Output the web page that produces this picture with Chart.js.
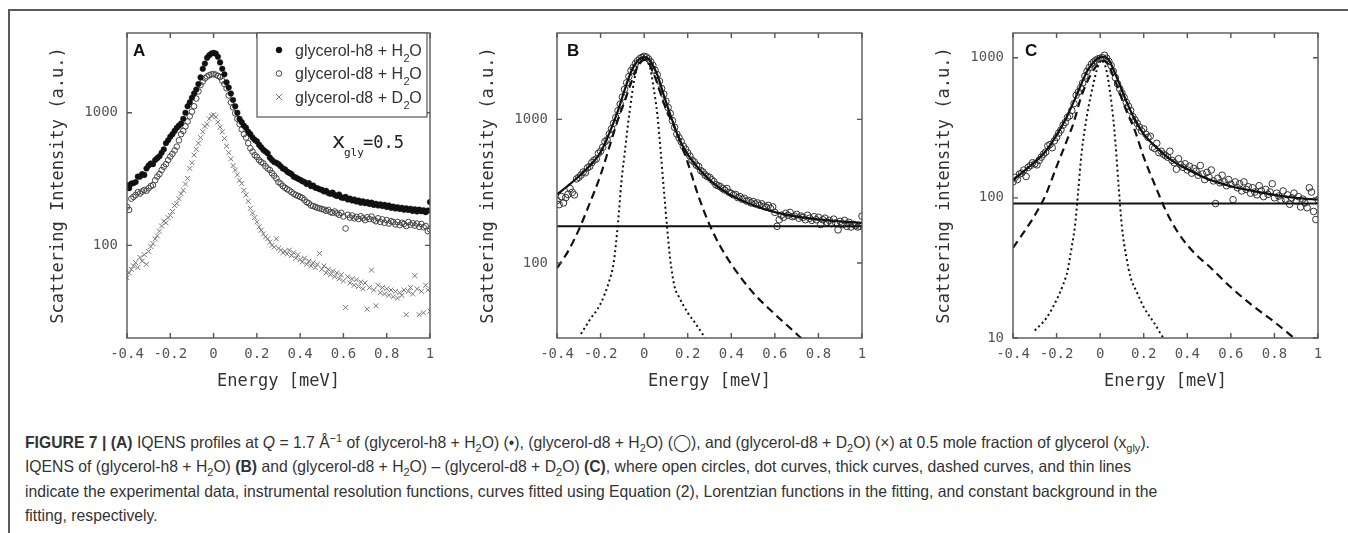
<!DOCTYPE html>
<html>
<head>
<meta charset="utf-8">
<script src="https://cdn.jsdelivr.net/npm/chart.js@4"></script>
<style>
  html, body { margin: 0; padding: 0; background: #fff; }
  body { width: 1348px; height: 533px; position: relative; overflow: hidden; }
  #frame { position: absolute; left: 8px; top: 9px; width: 1400px; height: 600px;
           border-top: 2px solid #5a5a5a; border-left: 2px solid #5a5a5a; }
  canvas { position: absolute; }
  #caption { position: absolute; left: 25px; top: 430px; color: #333;
             font-family: "Liberation Sans", Arial, sans-serif; font-size: 16.5px; line-height: 24.3px;
             white-space: nowrap; transform-origin: left top; }
  #caption .line { width: max-content; }
  #caption sub, #caption sup { font-size: 70%; line-height: 0; }
</style>
</head>
<body>
<div id="frame"></div>
<canvas id="chartA" width="430" height="405" style="left:20px;top:5px"></canvas>
<canvas id="chartB" width="430" height="405" style="left:450px;top:5px"></canvas>
<canvas id="chartC" width="430" height="405" style="left:906px;top:5px"></canvas>
<div id="caption">
  <div class="line"><b>FIGURE 7 | (A)</b> IQENS profiles at <i>Q</i> = 1.7 Å<sup>−1</sup> of (glycerol-h8 + H<sub>2</sub>O) (•), (glycerol-d8 + H<sub>2</sub>O) (◯), and (glycerol-d8 + D<sub>2</sub>O) (×) at 0.5 mole fraction of glycerol (x<sub>gly</sub>).</div>
  <div class="line">IQENS of (glycerol-h8 + H<sub>2</sub>O) <b>(B)</b> and (glycerol-d8 + H<sub>2</sub>O) – (glycerol-d8 + D<sub>2</sub>O) <b>(C)</b>, where open circles, dot curves, thick curves, dashed curves, and thin lines</div>
  <div class="line">indicate the experimental data, instrumental resolution functions, curves fitted using Equation (2), Lorentzian functions in the fitting, and constant background in the</div>
  <div class="line">fitting, respectively.</div>
</div>
<script>
// energy transfer grid of the measured spectra (meV)
const energy = [
  -0.40, -0.39, -0.38, -0.37, -0.36, -0.35, -0.34, -0.33, -0.32, -0.31,
  -0.30, -0.29, -0.28, -0.27, -0.26, -0.25, -0.24, -0.23, -0.22, -0.21,
  -0.20, -0.19, -0.18, -0.17, -0.16, -0.15, -0.14, -0.13, -0.12, -0.11,
  -0.10, -0.09, -0.08, -0.07, -0.06, -0.05, -0.04, -0.03, -0.02, -0.01,
  0.00, 0.01, 0.02, 0.03, 0.04, 0.05, 0.06, 0.07, 0.08, 0.09,
  0.10, 0.11, 0.12, 0.13, 0.14, 0.15, 0.16, 0.17, 0.18, 0.19,
  0.20, 0.21, 0.22, 0.23, 0.24, 0.25, 0.26, 0.27, 0.28, 0.29,
  0.30, 0.31, 0.32, 0.33, 0.34, 0.35, 0.36, 0.37, 0.38, 0.39,
  0.40, 0.41, 0.42, 0.43, 0.44, 0.45, 0.46, 0.47, 0.48, 0.49,
  0.50, 0.51, 0.52, 0.53, 0.54, 0.55, 0.56, 0.57, 0.58, 0.59,
  0.60, 0.61, 0.62, 0.63, 0.64, 0.65, 0.66, 0.67, 0.68, 0.69,
  0.70, 0.71, 0.72, 0.73, 0.74, 0.75, 0.76, 0.77, 0.78, 0.79,
  0.80, 0.81, 0.82, 0.83, 0.84, 0.85, 0.86, 0.87, 0.88, 0.89,
  0.90, 0.91, 0.92, 0.93, 0.94, 0.95, 0.96, 0.97, 0.98, 0.99,
  1.00
];

// panel A
const h8H2O = [
  285, 270, 292, 295, 300, 330, 330, 345, 340, 380,
  400, 415, 410, 440, 455, 470, 500, 530, 590, 620,
  660, 690, 730, 770, 800, 830, 900, 1000, 1120, 1200,
  1300, 1400, 1500, 1650, 1850, 2150, 2350, 2600, 2720, 2800,
  2830, 2800, 2650, 2400, 2150, 1950, 1700, 1550, 1400, 1250,
  1120, 1000, 900, 850, 800, 770, 720, 690, 650, 625,
  610, 575, 550, 525, 510, 495, 460, 440, 425, 420,
  410, 395, 380, 375, 360, 352, 345, 330, 325, 318,
  312, 305, 300, 290, 295, 280, 283, 272, 270, 265,
  262, 255, 258, 248, 245, 250, 240, 236, 242, 230,
  228, 232, 222, 225, 218, 222, 214, 218, 210, 215,
  208, 212, 205, 210, 202, 206, 200, 204, 198, 202,
  195, 200, 192, 196, 190, 194, 188, 192, 186, 190,
  185, 189, 182, 187, 180, 186, 181, 184, 178, 183,
  212
];
const d8H2O = [
  195, 185, 225, 232, 240, 252, 246, 255, 262, 258,
  270, 280, 285, 310, 330, 345, 370, 392, 410, 440,
  467, 490, 520, 556, 620, 690, 730, 790, 860, 940,
  1020, 1120, 1280, 1450, 1620, 1720, 1820, 1880, 1920, 1950,
  1960, 1940, 1900, 1860, 1750, 1650, 1530, 1350, 1200, 1100,
  990, 900, 820, 750, 690, 650, 590, 540, 510, 480,
  465, 440, 425, 415, 395, 380, 370, 350, 335, 320,
  300, 292, 280, 272, 265, 260, 252, 245, 240, 236,
  232, 228, 220, 212, 208, 200, 198, 195, 192, 190,
  188, 186, 182, 185, 178, 176, 180, 174, 170, 176,
  165, 134, 170, 162, 168, 160, 164, 158, 166, 160,
  155, 163, 158, 165, 156, 152, 160, 150, 157, 148,
  155, 146, 152, 150, 144, 150, 142, 148, 145, 140,
  150, 143, 147, 141, 146, 138, 145, 137, 140, 128,
  132
];
const d8D2O = [
  57, 62, 66, 70, 74, 68, 81, 76, 85, 72,
  90, 98, 103, 112, 118, 128, 140, 152, 148, 162,
  168, 180, 200, 207, 225, 245, 260, 290, 320, 380,
  420, 480, 530, 590, 650, 720, 790, 820, 900, 950,
  966, 930, 850, 780, 720, 640, 560, 500, 450, 400,
  370, 340, 310, 293, 260, 240, 215, 190, 175, 162,
  150, 138, 130, 122, 116, 112, 106, 100, 97, 112,
  95, 92, 88, 90, 86, 92, 84, 88, 80, 85,
  78, 75, 80, 72, 76, 70, 74, 68, 72, 87,
  66, 70, 62, 66, 60, 64, 58, 62, 56, 60,
  54, 34, 58, 52, 56, 50, 55, 49, 53, 47,
  52, 33, 48, 65, 46, 35, 50, 44, 48, 43,
  47, 42, 46, 41, 45, 40, 44, 42, 46, 30,
  45, 48, 43, 59, 47, 30, 45, 31, 50, 46,
  32
];
const seriesNames = ["glycerol-h8 + H2O", "glycerol-d8 + H2O", "glycerol-d8 + D2O"];

// panel B: glycerol-h8 + H2O with its fit
const dataB = [
  272, 255, 290, 262, 285, 300, 330, 310, 298, 385,
  395, 410, 430, 425, 460, 470, 500, 520, 530, 580,
  600, 640, 700, 720, 790, 860, 940, 1030, 1150, 1280,
  1430, 1620, 1800, 1990, 2180, 2300, 2450, 2560, 2650, 2700,
  2750, 2720, 2640, 2520, 2380, 2200, 2050, 1850, 1640, 1500,
  1340, 1210, 1100, 980, 880, 790, 745, 700, 650, 620,
  585, 555, 520, 505, 480, 470, 440, 430, 410, 400,
  395, 380, 368, 350, 345, 340, 330, 322, 330, 310,
  305, 298, 300, 285, 290, 278, 282, 270, 272, 262,
  268, 258, 262, 252, 258, 248, 245, 252, 240, 246,
  225, 180, 200, 215, 208, 222, 215, 225, 210, 212,
  218, 205, 212, 208, 200, 215, 205, 198, 210, 200,
  208, 185, 200, 205, 192, 198, 188, 202, 190, 170,
  195, 185, 198, 180, 192, 178, 186, 182, 178, 180,
  212
];
// panel C: (glycerol-d8 + H2O) - (glycerol-d8 + D2O) with its fit
const dataC = [
  130, 140, 135, 148, 150, 158, 142, 165, 170, 178,
  175, 172, 185, 195, 205, 212, 235, 240, 228, 255,
  270, 290, 305, 330, 345, 375, 385, 420, 470, 540,
  570, 610, 660, 740, 800, 850, 900, 930, 960, 980,
  990, 1000, 1040, 990, 940, 880, 800, 720, 650, 600,
  560, 520, 480, 450, 420, 380, 360, 340, 320, 300,
  310, 285, 270, 275, 230, 225, 245, 210, 215, 205,
  200, 195, 215, 185, 178, 160, 190, 172, 165, 175,
  158, 168, 150, 162, 155, 145, 170, 148, 135, 152,
  140, 158, 132, 91, 138, 128, 145, 130, 122, 135,
  125, 97, 130, 118, 126, 112, 130, 115, 120, 108,
  118, 110, 105, 122, 112, 102, 115, 106, 110, 126,
  100, 108, 103, 96, 112, 98, 105, 90, 100, 108,
  95, 102, 86, 98, 92, 85, 118, 110, 80, 70,
  97
];

// fitted curves (thick), Lorentzians (dashed), resolution (dotted), background (thin)
const fitE = [-0.40, -0.35, -0.30, -0.25, -0.20, -0.16, -0.12, -0.09, -0.06, -0.04, -0.02, 0.00, 0.02,
              0.04, 0.06, 0.09, 0.12, 0.16, 0.20, 0.25, 0.30, 0.35, 0.40, 0.50, 0.60, 0.70, 0.80, 0.90, 1.00];
const fitB = [300, 345, 400, 475, 590, 800, 1150, 1600, 2150, 2450, 2650, 2720, 2640,
              2380, 2050, 1480, 1080, 735, 570, 455, 380, 330, 295, 252, 226, 210, 201, 195, 190];
const fitC = [134, 155, 180, 215, 280, 360, 490, 630, 800, 890, 965, 1005, 1015,
              960, 830, 640, 490, 360, 285, 235, 200, 176, 160, 135, 121, 112, 105, 100, 97];

const lorE_B = [-0.40, -0.35, -0.30, -0.25, -0.20, -0.16, -0.12, -0.09, -0.06, -0.04, -0.02, 0.00, 0.02, 0.04,
                0.06, 0.09, 0.12, 0.16, 0.20, 0.25, 0.30, 0.35, 0.40, 0.50, 0.60, 0.70, 0.73];
const lorB = [92, 120, 170, 260, 410, 640, 1000, 1330, 1800, 2150, 2450, 2600, 2500, 2150,
              1800, 1300, 1020, 740, 500, 290, 185, 130, 98, 62, 44, 32, 29];
const lorE_C = [-0.40, -0.35, -0.30, -0.25, -0.20, -0.16, -0.12, -0.09, -0.06, -0.04, -0.02, 0.00, 0.02, 0.04,
                0.06, 0.09, 0.12, 0.16, 0.20, 0.25, 0.30, 0.35, 0.40, 0.45, 0.50, 0.60, 0.70, 0.80, 0.89];
const lorC = [44, 57, 75, 105, 167, 240, 350, 510, 670, 770, 860, 920, 950, 880,
              740, 560, 420, 300, 195, 125, 82, 59, 46, 38, 32.5, 23, 17, 13, 10];

const resE_B = [-0.29, -0.25, -0.20, -0.16, -0.14, -0.12, -0.105, -0.09, -0.075, -0.06, -0.045, -0.03, -0.015, 0.00,
                0.015, 0.03, 0.045, 0.06, 0.075, 0.09, 0.105, 0.12, 0.14, 0.16, 0.20, 0.23, 0.28];
const resB = [32, 40, 52, 75, 100, 190, 360, 570, 900, 1350, 1900, 2350, 2580, 2680,
              2550, 2200, 1600, 1100, 620, 330, 180, 105, 68, 58, 45, 39, 30];
const resE_C = [-0.30, -0.245, -0.20, -0.17, -0.15, -0.13, -0.115, -0.10, -0.085, -0.06, -0.03, -0.01, 0.01,
                0.03, 0.046, 0.06, 0.07, 0.085, 0.10, 0.12, 0.14, 0.17, 0.20, 0.245, 0.29];
const resC = [11.3, 14, 18.7, 24, 30, 45, 64, 115, 210, 390, 660, 870, 960,
              800, 560, 370, 250, 120, 62, 38, 27, 21, 16.6, 13, 10];

const bgB = 180;
const bgC = 91;

// axes
const xRange = [-0.4, 1];
const xTickValues = [-0.4, -0.2, 0, 0.2, 0.4, 0.6, 0.8, 1];
const xTickLabels = ["-0.4", "-0.2", "0", "0.2", "0.4", "0.6", "0.8", "1"];
const yRangeA = [20, 4000];
const yRangeB = [30, 4000];
const yRangeC = [10, 1500];
const yTicksA = [100, 1000];
const yTicksB = [100, 1000];
const yTicksC = [10, 100, 1000];

const MONO = '"DejaVu Sans Mono", "Liberation Mono", monospace';
const SANS = '"Liberation Sans", Arial, sans-serif';

function xy(xs, ys) { return xs.map((x, i) => ({ x: x, y: ys[i] })); }

function markers(ys, style) {
  return Object.assign({ data: xy(energy, ys), showLine: false }, style);
}
function curve(xs, ys, dash, width) {
  return {
    data: xy(xs, ys), showLine: true, pointRadius: 0, fill: false,
    borderColor: '#111', borderWidth: width, borderDash: dash,
    cubicInterpolationMode: 'monotone'
  };
}

// plot box + inward ticks on all four sides
const framePlugin = {
  id: 'frame',
  afterDatasetsDraw(chart) {
    const { ctx, chartArea: a } = chart;
    const sx = chart.scales.x, sy = chart.scales.y;
    ctx.save();
    ctx.strokeStyle = '#555';
    ctx.lineWidth = 1.4;
    ctx.strokeRect(a.left, a.top, a.right - a.left, a.bottom - a.top);
    ctx.beginPath();
    sx.ticks.forEach(t => {
      const px = sx.getPixelForValue(t.value);
      ctx.moveTo(px, a.bottom); ctx.lineTo(px, a.bottom - 5);
      ctx.moveTo(px, a.top); ctx.lineTo(px, a.top + 5);
    });
    sy.ticks.forEach(t => {
      const py = sy.getPixelForValue(t.value);
      ctx.moveTo(a.left, py); ctx.lineTo(a.left + 5, py);
      ctx.moveTo(a.right, py); ctx.lineTo(a.right - 5, py);
    });
    ctx.stroke();
    ctx.restore();
  }
};

const letterPlugin = {
  id: 'panelLetter',
  afterDraw(chart, args, opts) {
    const { ctx, chartArea: a } = chart;
    ctx.save();
    ctx.fillStyle = '#111';
    ctx.font = 'bold 17px ' + SANS;
    ctx.textBaseline = 'alphabetic';
    ctx.fillText(opts.text, a.left + opts.dx, a.top + 23);
    ctx.restore();
  }
};

// text with a "2" subscript before the final O
function drawFormula(ctx, text, x, y) {
  const k = text.lastIndexOf('2O');
  const head = text.slice(0, k);
  ctx.font = '16px ' + SANS;
  ctx.fillText(head, x, y);
  let cx = x + ctx.measureText(head).width;
  ctx.font = '11px ' + SANS;
  ctx.fillText('2', cx + 0.5, y + 6);
  cx += ctx.measureText('2').width;
  ctx.font = '16px ' + SANS;
  ctx.fillText('O', cx, y);
}

const legendPlugin = {
  id: 'boxLegend',
  afterDraw(chart) {
    const { ctx, chartArea: a } = chart;
    const left = a.right - 173, top = a.top, w = 170, h = 84;
    ctx.save();
    ctx.fillStyle = '#fff';
    ctx.fillRect(left, top, w, h);
    ctx.strokeStyle = '#555';
    ctx.lineWidth = 1.2;
    ctx.strokeRect(left, top, w, h);
    chart.data.datasets.forEach((ds, i) => {
      const cy = top + 17 + i * 23.5;
      const sx = left + 22;
      ctx.lineWidth = 1;
      ctx.strokeStyle = ds.borderColor;
      ctx.fillStyle = ds.backgroundColor;
      if (ds.pointStyle === 'crossRot') {
        ctx.beginPath();
        ctx.moveTo(sx - 3, cy - 3); ctx.lineTo(sx + 3, cy + 3);
        ctx.moveTo(sx + 3, cy - 3); ctx.lineTo(sx - 3, cy + 3);
        ctx.stroke();
      } else {
        ctx.beginPath();
        ctx.arc(sx, cy, 2.8, 0, Math.PI * 2);
        ctx.fill();
        ctx.stroke();
      }
      ctx.fillStyle = '#333';
      ctx.textBaseline = 'alphabetic';
      drawFormula(ctx, ds.label, left + 38, cy + 5.5);
    });
    // x_gly = 0.5
    const ax = a.right - 98, ay = a.top + 115;
    ctx.fillStyle = '#222';
    ctx.font = '22px ' + MONO;
    ctx.fillText('x', ax, ay);
    ctx.font = '11px ' + MONO;
    ctx.fillText('gly', ax + 12, ay + 8);
    ctx.font = '17px ' + MONO;
    ctx.fillText('=0.5', ax + 31, ay);
    ctx.restore();
  }
};

function panel(id, cfg) {
  return new Chart(document.getElementById(id), {
    type: 'scatter',
    data: { datasets: cfg.datasets },
    options: {
      responsive: false,
      animation: false,
      events: [],
      layout: { padding: cfg.padding },
      plugins: {
        legend: { display: false },
        tooltip: { enabled: false },
        panelLetter: cfg.letter
      },
      scales: {
        x: {
          type: 'linear', min: xRange[0], max: xRange[1],
          grid: { display: false, drawTicks: false },
          border: { display: false },
          afterBuildTicks: s => { s.ticks = xTickValues.map(v => ({ value: v })); },
          afterFit: s => { s.height = 60; },
          ticks: {
            autoSkip: false, maxRotation: 0, padding: 8, color: '#555',
            font: { family: MONO, size: 14 },
            callback: (v, i) => xTickLabels[i]
          },
          title: {
            display: true, text: 'Energy [meV]', color: '#333',
            font: { family: MONO, size: 17 }, padding: { top: 0, bottom: 6 }
          }
        },
        y: {
          type: 'logarithmic', min: cfg.yRange[0], max: cfg.yRange[1],
          grid: { display: false, drawTicks: false },
          border: { display: false },
          afterBuildTicks: s => { s.ticks = cfg.yTicks.map(v => ({ value: v })); },
          afterFit: s => { s.width = 80; },
          ticks: {
            autoSkip: false, padding: 9, color: '#555',
            font: { family: MONO, size: 14 },
            callback: v => String(v)
          },
          title: {
            display: true, text: cfg.yTitle, color: '#333',
            font: { family: MONO, size: 17 }, padding: { top: 1, bottom: 0 }
          }
        }
      }
    },
    plugins: [framePlugin, letterPlugin].concat(cfg.extra || [])
  });
}

panel('chartA', {
  padding: { left: 27, top: 28, right: 20, bottom: 12 },
  yRange: yRangeA, yTicks: yTicksA,
  yTitle: 'Scattering Intensity (a.u.)',
  letter: { text: 'A', dx: 6 },
  extra: [legendPlugin],
  datasets: [
    markers(h8H2O, { label: seriesNames[0], pointStyle: 'circle', pointRadius: 2.8,
      backgroundColor: '#111', borderColor: '#111', borderWidth: 0.5 }),
    markers(d8H2O, { label: seriesNames[1], pointStyle: 'circle', pointRadius: 2.8,
      backgroundColor: 'rgba(255,255,255,0)', borderColor: '#444', borderWidth: 1 }),
    markers(d8D2O, { label: seriesNames[2], pointStyle: 'crossRot', pointRadius: 3.5,
      backgroundColor: 'rgba(0,0,0,0)', borderColor: '#777', borderWidth: 1 })
  ]
});

panel('chartB', {
  padding: { left: 27, top: 28, right: 18, bottom: 12 },
  yRange: yRangeB, yTicks: yTicksB,
  yTitle: 'Scattering intensity (a.u.)',
  letter: { text: 'B', dx: 10 },
  datasets: [
    curve(fitE, fitB, [], 2.2),
    curve(lorE_B, lorB, [8, 5], 2.2),
    curve(resE_B, resB, [2, 3], 2),
    curve(xRange, [bgB, bgB], [], 2),
    markers(dataB, { pointStyle: 'circle', pointRadius: 3.3,
      backgroundColor: 'rgba(255,255,255,0)', borderColor: '#333', borderWidth: 1 })
  ]
});

panel('chartC', {
  padding: { left: 27, top: 28, right: 18, bottom: 12 },
  yRange: yRangeC, yTicks: yTicksC,
  yTitle: 'Scattering intensity (a.u.)',
  letter: { text: 'C', dx: 12 },
  datasets: [
    curve(fitE, fitC, [], 2.2),
    curve(lorE_C, lorC, [8, 5], 2.2),
    curve(resE_C, resC, [2, 3], 2),
    curve(xRange, [bgC, bgC], [], 2),
    markers(dataC, { pointStyle: 'circle', pointRadius: 3.3,
      backgroundColor: 'rgba(255,255,255,0)', borderColor: '#333', borderWidth: 1 })
  ]
});

// squeeze the caption to the condensed width of the original typesetting
const cap = document.getElementById('caption');
const firstLine = cap.querySelector('.line');
cap.style.transform = 'scaleX(' + (1125 / firstLine.getBoundingClientRect().width) + ')';
</script>
</body>
</html>
